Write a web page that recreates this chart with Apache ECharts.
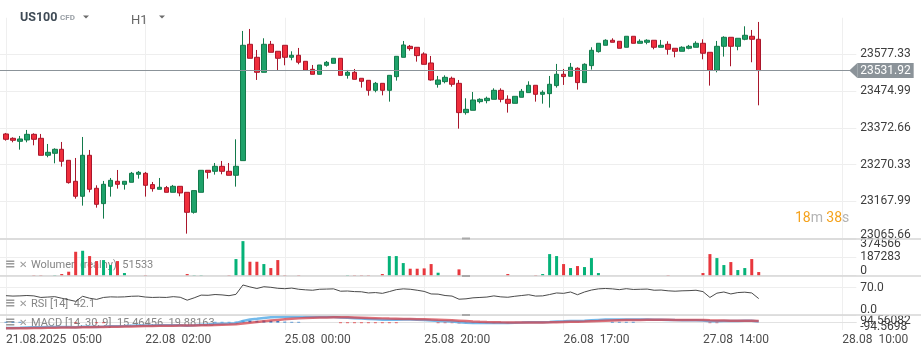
<!DOCTYPE html>
<html><head><meta charset="utf-8">
<script src="https://cdn.jsdelivr.net/npm/echarts@6/dist/echarts.min.js"></script>
<style>html,body{margin:0;padding:0;background:#fff}#c{width:921px;height:355px}</style>
</head><body><div id="c"></div>
<script>
// ---- data (H1 candles from 21.08.2025 05:00) ----
const opens = [23355.4,23343.3,23334.9,23338.7,23354.4,23343.3,23296.0,23301.5,23312.7,23282.0,
23223.6,23181.8,23296.0,23204.1,23161.4,23209.6,23223.6,23215.2,23220.8,23243.1,
23245.8,23214.3,23201.3,23205.9,23192.9,23209.6,23192.9,23137.2,23192.9,23254.2,
23251.4,23265.3,23251.4,23240.3,23281.1,23605.1,23568.9,23527.1,23605.1,23585.6,
23602.3,23568.9,23574.5,23557.7,23535.4,23521.5,23546.6,23552.1,23566.1,23518.7,
23527.1,23510.4,23504.8,23476.9,23496.4,23476.9,23515.0,23568.8,23599.5,23596.7,
23578.1,23553.1,23493.7,23501.1,23510.4,23496.4,23414.8,23421.3,23445.4,23448.2,
23451.9,23476.9,23451.9,23440.7,23457.5,23470.5,23490.9,23465.8,23467.7,23490.0,
23521.6,23516.0,23538.3,23498.4,23545.7,23584.7,23602.3,23616.3,23613.5,23596.8,
23627.4,23607.9,23610.7,23616.3,23596.8,23605.1,23594.0,23585.6,23594.0,23596.8,
23607.9,23582.8,23532.7,23599.5,23624.6,23599.5,23619.0,23627.4,23619.0];
const closes = [23340.5,23337.7,23341.4,23354.4,23340.5,23296.0,23304.3,23312.7,23279.3,23219.9,
23181.8,23296.0,23201.3,23159.5,23215.2,23226.3,23215.2,23223.6,23245.8,23248.6,
23212.4,23203.1,23206.9,23192.9,23209.6,23191.1,23137.2,23197.6,23254.2,23248.6,
23265.3,23251.4,23240.3,23265.3,23602.3,23566.1,23527.1,23605.1,23582.8,23566.1,
23568.9,23574.5,23555.0,23532.6,23521.5,23547.5,23554.9,23566.1,23518.7,23527.1,
23507.6,23502.0,23476.9,23496.4,23476.9,23518.7,23571.6,23603.2,23593.0,23573.5,
23549.3,23505.7,23505.7,23513.1,23493.7,23414.8,23424.0,23450.0,23451.9,23454.7,
23476.9,23451.9,23440.7,23460.2,23474.2,23490.9,23465.8,23471.4,23493.7,23521.6,
23515.1,23541.1,23498.4,23549.4,23588.4,23607.9,23616.3,23610.7,23594.0,23627.4,
23607.9,23613.5,23616.3,23596.8,23602.3,23591.2,23585.6,23596.8,23599.5,23607.9,
23580.1,23532.7,23599.5,23624.6,23599.5,23621.8,23630.2,23619.0,23531.92];
const lows = [23336.8,23332.2,23311.7,23332.2,23323.8,23296.0,23290.4,23273.7,23264.4,23217.1,
23175.3,23155.8,23192.9,23150.2,23119.6,23180.9,23203.1,23200.4,23220.8,23231.0,
23180.9,23194.8,23201.3,23192.9,23192.9,23181.8,23077.8,23133.5,23192.9,23231.0,
23242.1,23243.1,23240.3,23208.7,23281.1,23566.1,23505.8,23527.1,23582.8,23530.8,
23546.6,23560.5,23549.4,23532.6,23521.5,23521.5,23542.9,23552.1,23518.7,23509.4,
23507.6,23484.4,23462.1,23471.4,23463.0,23445.4,23503.9,23568.8,23587.4,23556.8,
23549.3,23503.9,23484.4,23496.4,23487.2,23370.2,23409.2,23421.3,23440.7,23440.7,
23451.9,23443.5,23414.8,23440.7,23457.5,23470.5,23445.4,23439.8,23428.8,23484.5,
23491.9,23516.0,23478.9,23498.4,23534.6,23581.9,23602.3,23610.7,23594.0,23596.8,
23607.9,23607.9,23605.1,23591.2,23596.8,23576.3,23568.9,23585.6,23591.2,23596.8,
23563.3,23490.0,23527.1,23570.8,23543.9,23588.4,23616.3,23555.0,23435.2];
const highs = [23358.2,23346.1,23349.8,23366.5,23357.2,23355.4,23327.5,23315.5,23333.1,23282.0,
23288.5,23347.0,23310.8,23212.4,23224.5,23232.8,23255.1,23223.6,23249.6,23252.3,
23249.6,23221.7,23232.8,23210.6,23213.4,23209.6,23192.9,23197.6,23254.2,23254.2,
23274.6,23280.2,23274.6,23340.5,23642.2,23647.8,23589.3,23621.8,23614.4,23585.6,
23602.3,23585.6,23594.9,23557.7,23547.5,23547.5,23558.6,23566.1,23566.1,23533.6,
23536.4,23510.4,23504.8,23500.2,23496.4,23518.7,23571.6,23614.3,23603.2,23596.7,
23582.8,23572.6,23516.9,23518.7,23515.0,23505.7,23454.7,23472.3,23454.7,23459.3,
23482.5,23482.5,23463.0,23460.2,23480.7,23502.0,23490.9,23476.9,23516.9,23550.4,
23536.4,23553.1,23541.1,23552.2,23596.8,23607.9,23619.0,23621.8,23613.5,23627.4,
23627.4,23619.0,23619.0,23616.3,23617.2,23613.5,23594.0,23599.5,23603.3,23613.5,
23619.0,23582.8,23614.4,23627.4,23624.6,23621.8,23655.2,23645.0,23667.3];
const volumes = [0,0,0,0,7000,7000,0,7000,17000,40700,
244300,254500,200200,149300,159500,108600,149300,27100,0,0,
7000,0,0,0,0,0,17000,7000,7000,0,
0,0,7000,169700,352900,142500,142500,118800,78000,159500,
7000,0,7000,0,0,0,0,0,0,7000,
7000,7000,7000,0,17000,200200,200200,128900,71300,71300,
74600,118800,30500,0,0,64500,7000,0,0,0,
0,0,17000,0,0,0,7000,17000,220500,200200,
118800,78000,98400,88200,179800,27100,0,0,0,0,
0,0,0,0,0,7000,0,0,0,0,
27100,220500,179800,108600,139100,57700,78000,169700,37300];
const rsiValues = [49.5,48.5,49,50,49,45,46,47,43,39,
35,48,43,40,45,46.5,46,46.5,48,48.5,
46,45,45.5,45,47,45.5,38,44,51,50.5,
52.5,51.5,49.5,53,77,72,68,72.5,71,68.5,
67.5,69,66,64.5,63.5,66,66.5,67,61,61.5,
60,59.5,56.5,57.5,55.5,60,65,67,66,63.5,
60.5,54,53.5,50,48.5,40.5,41.5,44,45,46,
49,46.5,45.5,48,50,52,48.5,49,52.5,56.5,
55.5,59,52,59,64,67,68,67,65,67.5,
65.5,66,66.5,63.5,64,62,61,62,62.5,63.5,
60,45,56,59,54,57.5,58.5,56.5,42.1];
const macdLine = [-68,-68,-66,-63,-60,-60,-58,-56,-56,-58,
-60,-54,-54,-56,-52,-48,-46,-44,-40,-37,
-37,-37,-36,-36,-34,-34,-40,-36,-28,-24,
-18,-15,-14,-9,20,38,46,58,66,70,
73,74,73,72,70,70,70,70,64,60,
55,50,44,40,35,34,36,38,38,36,
32,25,20,16,12,2,-4,-6,-7,-7,
-5,-5,-6,-4,-1,3,3,4,7,12,
15,19,18,22,28,33,37,38,38,39,
38,38,37,35,34,32,30,29,28,28,
25,15,17,20,18,19,21,21,13];
const signalLine = [-74,-73,-72,-71,-69,-68,-66,-65,-63,-62,
-62,-60,-59,-58,-57,-55,-53,-51,-49,-47,
-45,-44,-42,-41,-40,-39,-39,-38,-36,-34,
-31,-28,-26,-23,-14,-4,5,15,24,32,
40,46,52,56,60,62,64,66,66,65,
63,61,58,55,52,49,47,45,44,42,
40,37,34,31,28,23,18,13,9,6,
4,2,1,0,0,0,1,1,2,4,
6,8,10,12,15,18,22,25,28,30,
32,33,34,34,34,34,33,32,32,31,
30,27,25,24,23,22,22,22,20];
const macdHist = [8,8,8,0,0,0,0,0,0,0,
-8,0,0,-8,-8,0,0,0,0,0,
0,0,0,0,0,0,0,0,0,0,
8,8,8,10,25,25,22,25,22,18,
10,8,8,0,0,0,0,0,-8,-8,
-8,-8,-8,-8,-8,-8,-8,0,0,0,
0,0,-8,-8,-8,-10,-8,-8,-8,-8,
-8,-8,-8,0,0,0,0,0,0,0,
0,0,0,0,0,0,0,8,8,8,
8,0,0,0,0,0,0,0,0,0,
0,-8,-8,0,0,0,0,0,0];
const timeTickLabels = ['21.08.2025  05:00','22.08  02:00','25.08  00:00','25.08  20:00','26.08  17:00','27.08  14:00','28.08  10:00'];
const priceTicks = [23065.66, 23167.99, 23270.33, 23372.66, 23474.99, 23577.33];
const volumeTicks = [0, 187283, 374566];
const rsiTicks = [0, 70];
const macdTicks = [-94.5698, 94.56082];
const lastPrice = 23531.92;

// ---- layout ----
const LEAD = 1, TRAIL = 14, LABEL_EVERY = 20;
const GL = -1, GW = 857.3;
const UP = '#1ea26a', UP_B = '#137a4b', DN = '#f02e3c', DN_B = '#a9162b';
const VOL_UP = '#05b278', VOL_DN = '#e8373d';
const TAG = '#8b9399';
const FONT = 'Roboto';

const total = LEAD + opens.length + TRAIL;
const cats = Array.from({length: total}, (_, i) => String(i - LEAD));
const pad = arr => [...Array(LEAD).fill('-'), ...arr, ...Array(TRAIL).fill('-')];
const isUp = i => closes[i] >= opens[i];

const candleData = opens.map((o, i) => [o, closes[i], lows[i], highs[i]]);
const volData = volumes.map((v, i) => ({value: v, itemStyle: {color: isUp(i) ? VOL_UP : VOL_DN}}));
const histData = macdHist.map(v => ({value: v, itemStyle: {color: v >= 0 ? '#1a73c9' : '#e0141a'}}));

const tickIdx = idx => idx >= LEAD && (idx - LEAD) % LABEL_EVERY === 0;
function xAx(gi, labels) {
  return {
    type: 'category', gridIndex: gi, data: cats, boundaryGap: false,
    axisLine: {show: labels, lineStyle: {color: '#e2e2e2'}},
    axisTick: {show: false},
    axisLabel: {show: labels, interval: tickIdx, align: 'left', margin: 4,
      formatter: v => timeTickLabels[Number(v) / LABEL_EVERY] || '',
      color: '#4d4d4d', fontFamily: FONT, fontSize: 12},
    splitLine: {show: true, interval: tickIdx, lineStyle: {color: '#efefef', width: 1}}
  };
}
function yAx(gi, min, max, ticks, fmt, extra, split) {
  return {
    type: 'value', gridIndex: gi, position: 'right', min, max, scale: false,
    axisLine: {show: false},
    axisTick: {show: false, customValues: ticks},
    axisLabel: Object.assign({customValues: ticks, formatter: fmt, color: '#3d3d3d',
      fontFamily: FONT, fontSize: 12, margin: 4, showMinLabel: true, showMaxLabel: true,
      hideOverlap: false}, extra || {}),
    splitLine: {show: split !== false, lineStyle: {color: '#eeeeee', width: 1}}
  };
}

const chart = echarts.init(document.getElementById('c'), null, {renderer: 'canvas', width: 921, height: 355});
const gridBase = {left: GL, width: GW, outerBoundsMode: 'none', containLabel: false};
chart.setOption({
  animation: false,
  backgroundColor: '#ffffff',
  grid: [
    Object.assign({top: 17.75, height: 220.25}, gridBase),
    Object.assign({top: 239, height: 36.7}, gridBase),
    Object.assign({top: 276, height: 39}, gridBase),
    Object.assign({top: 315, height: 15}, gridBase)
  ],
  xAxis: [xAx(0, false), xAx(1, false), xAx(2, false), xAx(3, true)],
  yAxis: [
    yAx(0, 23065.66, 23679, priceTicks, v => v.toFixed(2), {lineHeight: 6, verticalAlignMinLabel: 'bottom', verticalAlignMaxLabel: 'middle'}),
    yAx(1, 0, 374566, volumeTicks, v => String(v), {lineHeight: 10, verticalAlignMinLabel: 'bottom', verticalAlignMaxLabel: 'top'}),
    yAx(2, 0, 100, rsiTicks, v => v.toFixed(1), {lineHeight: 10, verticalAlignMinLabel: 'bottom', verticalAlignMaxLabel: 'middle'}),
    // MACD pane: one axis for the upper label, one for the lower label (they overlap in the original)
    yAx(3, macdTicks[0], macdTicks[1], [macdTicks[1]], v => String(v), {lineHeight: 12, verticalAlign: 'top', verticalAlignMinLabel: 'top', verticalAlignMaxLabel: 'top'}, false),
    yAx(3, macdTicks[0], macdTicks[1], [macdTicks[0]], v => String(v), {lineHeight: 6, verticalAlign: 'bottom', verticalAlignMinLabel: 'bottom', verticalAlignMaxLabel: 'bottom'}, false)
  ],
  series: [
    {type: 'candlestick', xAxisIndex: 0, yAxisIndex: 0, data: pad(candleData), barWidth: 5,
      itemStyle: {color: UP, color0: DN, borderColor: UP_B, borderColor0: DN_B, borderWidth: 1},
      markLine: {silent: true, symbol: ['none', 'none'], animation: false,
        lineStyle: {color: TAG, width: 1, type: 'solid'},
        label: {show: true, position: 'end', distance: 1, formatter: lastPrice.toFixed(2),
          color: '#ffffff', backgroundColor: TAG, padding: [2, 3, 1, 3], fontFamily: FONT, fontSize: 12},
        data: [{yAxis: lastPrice}]}},
    {type: 'bar', xAxisIndex: 1, yAxisIndex: 1, data: pad(volData), barWidth: 3, barMinHeight: 0},
    {type: 'line', xAxisIndex: 2, yAxisIndex: 2, data: pad(rsiValues), showSymbol: false,
      lineStyle: {color: '#4a4a4a', width: 1}},
    {type: 'bar', xAxisIndex: 3, yAxisIndex: 3, data: pad(histData), barWidth: 3},
    {type: 'line', xAxisIndex: 3, yAxisIndex: 3, data: pad(macdLine), showSymbol: false,
      lineStyle: {color: '#5aaee8', width: 2.5, opacity: 0.85}},
    {type: 'line', xAxisIndex: 3, yAxisIndex: 3, data: pad(signalLine), showSymbol: false,
      lineStyle: {color: '#d4414b', width: 2.5, opacity: 0.75}}
  ]
});

// ---- UI chrome ----
const tp = chart.convertToPixel({xAxisIndex: 0, yAxisIndex: 0}, [cats[total - 1], lastPrice]);
const tagX = tp[0], tagY = tp[1];
const sep = y => ({type: 'line', shape: {x1: 0, y1: y, x2: 921, y2: y}, style: {stroke: '#d6d6d6', lineWidth: 1.5}, z: 100});
const handle = y => ({type: 'line', shape: {x1: 462, y1: y, x2: 470, y2: y}, style: {stroke: '#a9a9a9', lineWidth: 2}, z: 101});
const txt = (x, y, text, font, fill, z) => ({type: 'text', x, y, z: z == null ? 50 : z,
  style: {text, font, fill, verticalAlign: 'middle', align: 'left'}});
const paneHeader = (y, label) => [
  txt(5, y, '≡', 'bold 13px "DejaVu Sans"', '#9b9b9b', 1),
  txt(19, y, '✕', 'bold 10px "DejaVu Sans"', '#9b9b9b', 1),
  txt(31, y + 0.5, label, '11px Roboto', '#858585', 1)
];
chart.setOption({
  graphic: [
    sep(239), sep(276), sep(315),
    handle(238.5), handle(276), handle(315),
    txt(20, 18, 'US100', 'bold 12.5px Roboto', '#3e4a55'),
    txt(60, 17.5, 'CFD', 'bold 8px Roboto', '#9aa0a6'),
    {type: 'polygon', shape: {points: [[83, 15.5], [89, 15.5], [86, 18.5]]}, style: {fill: '#6b6b6b'}, z: 50},
    txt(131, 20.5, 'H1', '13px Roboto', '#666666'),
    {type: 'polygon', shape: {points: [[159, 15.5], [165, 15.5], [162, 18.5]]}, style: {fill: '#6b6b6b'}, z: 50},
    {type: 'text', x: 795, y: 218, z: 50, style: {text: '{o|18}{g|m} {o|38}{g|s}', verticalAlign: 'middle',
      rich: {o: {fill: '#f5a21c', fontSize: 14, fontFamily: FONT}, g: {fill: '#b3b3b3', fontSize: 14, fontFamily: FONT}}}},
    ...paneHeader(265, 'Wolumen (realny)  51533'),
    ...paneHeader(304, 'RSI [14]  42.1'),
    ...paneHeader(323, 'MACD [14, 30, 9]  15.46456  19.88163'),
    {type: 'polygon', shape: {points: [[tagX - 7, tagY], [tagX + 1, tagY - 7.5], [tagX + 1, tagY + 7.5]]}, style: {fill: TAG}, z: 100}
  ]
});
</script>
</body></html>
